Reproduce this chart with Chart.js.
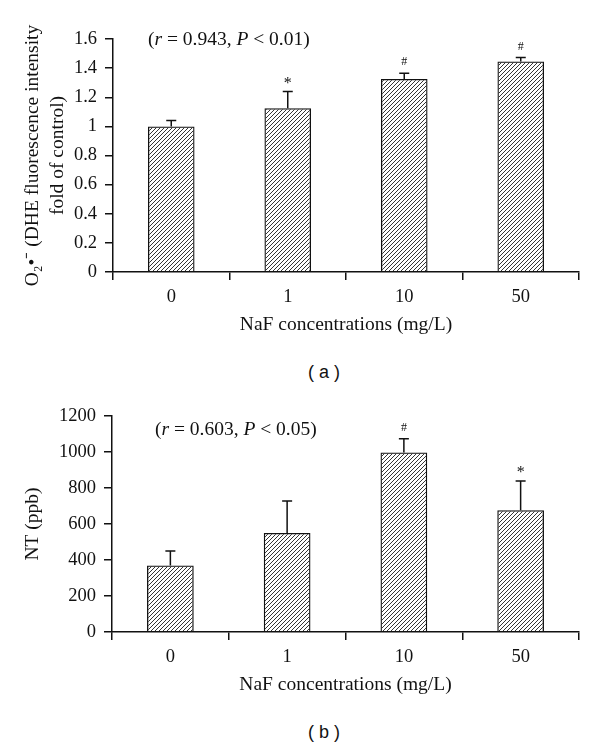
<!DOCTYPE html>
<html>
<head>
<meta charset="utf-8">
<script src="https://cdn.jsdelivr.net/npm/chart.js@4.4.1/dist/chart.umd.min.js"></script>
<style>
  body { margin: 0; background: #fff; }
  #wrap { position: relative; width: 600px; height: 746px; }
  canvas { position: absolute; left: 0; }
  .cap { position: absolute; left: 0; width: 648px; text-align: center;
         font: 18px "Liberation Sans", Arial, sans-serif; color: #111; line-height: 20px; }
</style>
</head>
<body>
<div id="wrap">
  <canvas id="chartA" width="600" height="345" style="top:0"></canvas>
  <div class="cap" style="top:362px">( a )</div>
  <canvas id="chartB" width="600" height="315" style="top:390px"></canvas>
  <div class="cap" style="top:722px">( b )</div>
</div>
<script>
// NaF doses on the x axis
var doses = ['0', '1', '10', '50'];

// panel (a): superoxide, fold of control
var dheMeans = [1.00, 1.125, 1.325, 1.445];
var dheErrors = [0.04, 0.115, 0.04, 0.028];
var dheMarks = ['', '*', '#', '#'];

// panel (b): nitrotyrosine, ppb
var ntMeans = [370, 550, 997, 676];
var ntErrors = [80, 178, 77, 163];
var ntMarks = ['', '', '#', '*'];

var serif = '"Liberation Serif", "Times New Roman", serif';
var ink = '#111';

// diagonal hatching like the print figure
function hatch() {
  var s = 4;
  var c = document.createElement('canvas');
  c.width = s; c.height = s;
  var g = c.getContext('2d');
  g.strokeStyle = ink;
  g.lineWidth = 0.85;
  g.beginPath();
  g.moveTo(-1, s + 1); g.lineTo(s + 1, -1);
  g.moveTo(-1, 1); g.lineTo(1, -1);
  g.moveTo(s - 1, s + 1); g.lineTo(s + 1, s - 1);
  g.stroke();
  return g.createPattern(c, 'repeat');
}

var errorBars = {
  id: 'errorBars',
  afterDatasetsDraw: function(chart, args, opts) {
    var ctx = chart.ctx;
    var meta = chart.getDatasetMeta(0);
    var y = chart.scales.y;
    var vals = chart.data.datasets[0].data;
    ctx.save();
    ctx.strokeStyle = ink;
    ctx.lineWidth = 1.5;
    ctx.fillStyle = ink;
    ctx.textAlign = 'center';
    ctx.textBaseline = 'middle';
    meta.data.forEach(function(bar, i) {
      var top = y.getPixelForValue(vals[i] + opts.errors[i]);
      var base = y.getPixelForValue(vals[i]);
      ctx.beginPath();
      ctx.moveTo(bar.x, base);
      ctx.lineTo(bar.x, top);
      ctx.moveTo(bar.x - 5, top);
      ctx.lineTo(bar.x + 5, top);
      ctx.stroke();
      var m = opts.marks[i];
      if (m) {
        ctx.font = (m === '*' ? '16px ' : '12px ') + serif;
        ctx.fillText(m, bar.x, top - (m === '*' ? 8 : 11));
      }
    });
    ctx.restore();
  }
};

var statText = {
  id: 'statText',
  afterDraw: function(chart, args, opts) {
    var ctx = chart.ctx;
    var x = chart.chartArea.left + opts.dx;
    var yy = chart.chartArea.top + opts.dy;
    var parts = [['(', false], ['r', true], [' = ' + opts.r + ', ', false], ['P', true], [' < ' + opts.p + ')', false]];
    ctx.save();
    ctx.fillStyle = ink;
    ctx.textBaseline = 'middle';
    parts.forEach(function(p) {
      ctx.font = (p[1] ? 'italic ' : '') + '19.5px ' + serif;
      ctx.fillText(p[0], x, yy);
      x += ctx.measureText(p[0]).width;
    });
    ctx.restore();
  }
};

function makeChart(id, values, errors, marks, yMax, yStep, yTitle, stat, axisW) {
  return new Chart(document.getElementById(id), {
    type: 'bar',
    data: {
      labels: doses,
      datasets: [{
        data: values,
        backgroundColor: hatch(),
        borderColor: ink,
        borderWidth: 1.3,
        borderSkipped: 'bottom',
        barPercentage: 0.4,
        categoryPercentage: 1
      }]
    },
    options: {
      responsive: false,
      animation: false,
      layout: { padding: { top: stat.padTop, right: 21, left: 0, bottom: 0 } },
      plugins: {
        legend: { display: false },
        tooltip: { enabled: false },
        errorBars: { errors: errors, marks: marks },
        statText: stat
      },
      scales: {
        x: {
          afterFit: function(s) { s.height = 73; },
          grid: { offset: true, drawOnChartArea: false, tickLength: 8, color: ink, lineWidth: 1.5 },
          border: { color: ink, width: 1.5 },
          ticks: { color: ink, padding: 6, font: { family: serif, size: 18.5 } },
          title: {
            display: true, text: 'NaF concentrations (mg/L)', color: ink,
            font: { family: serif, size: 19.5 }, padding: { top: 0, bottom: 8 }
          }
        },
        y: {
          min: 0, max: yMax,
          afterFit: function(s) { s.width = axisW; },
          grid: { drawOnChartArea: false, tickLength: 8, color: ink, lineWidth: 1.5 },
          border: { color: ink, width: 1.5 },
          ticks: {
            stepSize: yStep, color: ink, padding: 8,
            font: { family: serif, size: 18.5 },
            callback: function(v) { return String(+v.toFixed(1)); }
          },
          title: {
            display: true, text: yTitle, color: ink,
            font: { family: serif, size: 19.5, lineHeight: 1.25 },
            padding: { top: 21, bottom: 0 }
          }
        }
      }
    },
    plugins: [errorBars, statText]
  });
}

makeChart('chartA', dheMeans, dheErrors, dheMarks, 1.6, 0.2,
  ['O\u2082\u2022\u207B (DHE fluorescence intensity', 'fold of control)'],
  { r: '0.943', p: '0.01', dx: 35, dy: 1, padTop: 39 }, 113);

makeChart('chartB', ntMeans, ntErrors, ntMarks, 1200, 200,
  'NT (ppb)',
  { r: '0.603', p: '0.05', dx: 43, dy: 14, padTop: 26 }, 112);
</script>
</body>
</html>
